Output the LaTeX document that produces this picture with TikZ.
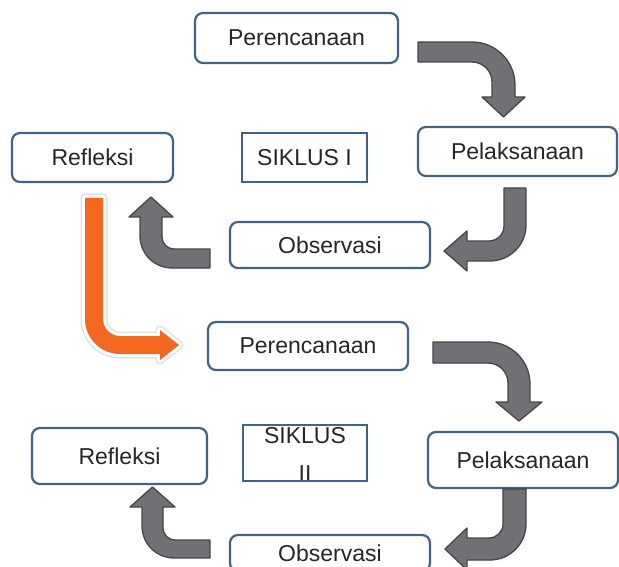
\documentclass[tikz,border=0pt]{standalone}
\usepackage{fontspec}
\setmainfont{Liberation Sans}
\definecolor{boxblue}{RGB}{68,98,130}
\definecolor{arrowgray}{RGB}{112,113,117}
\definecolor{arrowedge}{RGB}{70,70,72}
\definecolor{floworange}{RGB}{242,104,30}
\tikzset{
  stage/.style={draw=boxblue, line width=2.2pt, rounded corners=8pt, fill=white,
    inner sep=0pt, text=black!85, font=\fontsize{23}{27}\selectfont},
  cyclebox/.style={stage, sharp corners},
  grayarrow/.style={fill=arrowgray, draw=arrowedge, line width=1.3pt, line join=round},
  nextarrow/.style={fill=floworange,
    preaction={draw=black!12, line width=9pt, line join=round},
    preaction={draw=white, line width=6pt, line join=round}}
}
\begin{document}
\begin{tikzpicture}[x=1pt, y=-1pt]
    \clip (0,0) rectangle (619,567);
    \fill[white] (0,0) rectangle (619,567);
    % cycle I
    \node[stage, minimum width=203pt, minimum height=50pt] (plan1) at (296.5,38) {Perencanaan};
    \node[stage, minimum width=199pt, minimum height=49pt] (exec1) at (517.5,151.5) {Pelaksanaan};
    \node[stage, minimum width=200pt, minimum height=46pt] (obs1) at (330,245) {Observasi};
    \node[stage, minimum width=161pt, minimum height=49pt] (refl1) at (92.5,157.5) {Refleksi};
    \node[cyclebox, minimum width=125pt, minimum height=49pt] (cyc1) at (304.5,157.5) {SIKLUS I};
    % cycle II
    \node[stage, minimum width=200pt, minimum height=48pt] (plan2) at (308,346) {Perencanaan};
    \node[stage, minimum width=190pt, minimum height=56pt] (exec2) at (523,460) {Pelaksanaan};
    \node[stage, minimum width=200pt, minimum height=36pt] (obs2) at (330,553) {Observasi};
    \node[stage, minimum width=175pt, minimum height=56pt] (refl2) at (119.5,456) {Refleksi};
    \node[align=center, inner sep=0pt, text=black!85, font=\fontsize{23}{38}\selectfont] (cyc2text) at (305,454) {SIKLUS\\II};
    \node[cyclebox, fill=none, minimum width=124pt, minimum height=56pt] (cyc2) at (305,453) {};
    % plan1 -> exec1
    \draw[grayarrow] (418,42) [rounded corners=43pt] -- (515,42) [sharp corners] -- (515,97)
      -- (525,97) -- (503.5,117) -- (482,97) -- (492,97) [rounded corners=20pt] -- (492,62)
      [sharp corners] -- (418,62) -- cycle;
    % exec1 -> obs1
    \draw[grayarrow] (504,188) -- (526,188) [rounded corners=36pt] -- (526,261) [sharp corners]
      -- (467,261) -- (467,271) -- (444,251) -- (467,231) -- (467,241) [rounded corners=15pt]
      -- (504,241) [sharp corners] -- cycle;
    % obs1 -> refl1
    \draw[grayarrow] (210,249) -- (210,268) [rounded corners=32pt] -- (140,268) [sharp corners]
      -- (140,217) -- (129,217) -- (151,197) -- (173,217) -- (162,217) [rounded corners=12pt]
      -- (162,249) [sharp corners] -- cycle;
    % refl1 -> plan2
    \fill[nextarrow] (85,198) -- (103,198) [rounded corners=17pt] -- (103,336) [sharp corners]
      -- (160,336) -- (160,330) -- (179,345) -- (160,360) -- (160,354) [rounded corners=35pt]
      -- (85,354) [sharp corners] -- cycle;
    % plan2 -> exec2
    \draw[grayarrow] (433,342) [rounded corners=42pt] -- (530,342) [sharp corners] -- (530,402)
      -- (542,402) -- (519,421) -- (496,402) -- (508,402) [rounded corners=20pt] -- (508,363)
      [sharp corners] -- (433,363) -- cycle;
    % exec2 -> obs2
    \draw[grayarrow] (503,489) -- (526,489) [rounded corners=36pt] -- (526,560) [sharp corners]
      -- (467,560) -- (467,570) -- (445,549) -- (467,528) -- (467,538) [rounded corners=14pt]
      -- (503,538) [sharp corners] -- cycle;
    % obs2 -> refl2
    \draw[grayarrow] (210,540) -- (210,558) [rounded corners=32pt] -- (142,558) [sharp corners]
      -- (142,507) -- (130,507) -- (152.5,487) -- (175,507) -- (163,507) [rounded corners=12pt]
      -- (163,540) [sharp corners] -- cycle;
\end{tikzpicture}
\end{document}
